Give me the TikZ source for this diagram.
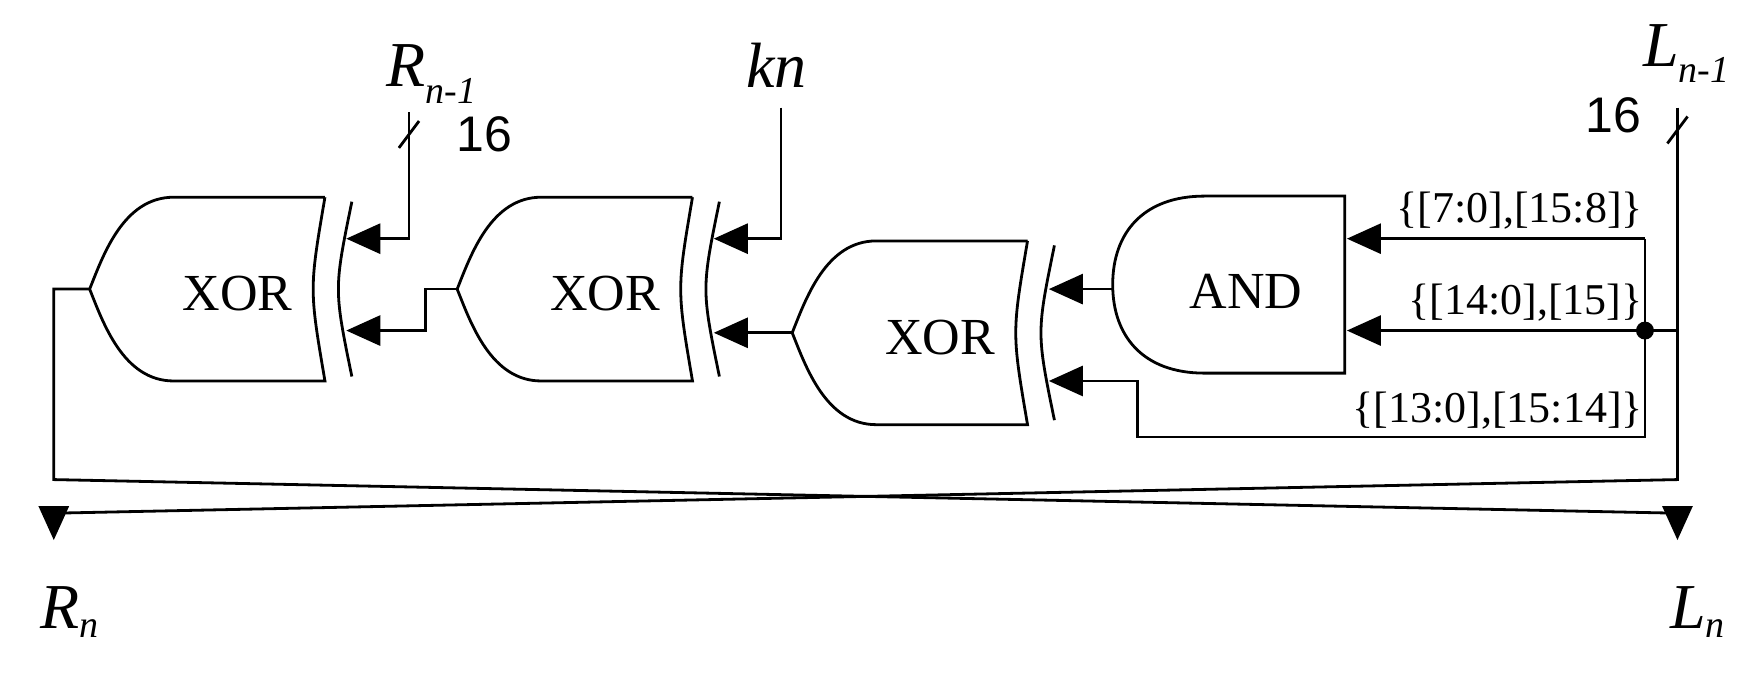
\documentclass[tikz,border=0pt]{standalone}
\usepackage{fontspec}
\setmainfont{Liberation Serif}
\newfontfamily\numfont{Liberation Sans}
\usetikzlibrary{arrows.meta}
\tikzset{
  wire/.style={line width=2.8pt},
  arr/.style={wire,-{Triangle[length=34pt,width=30pt]}},
  gate/.style={line width=2.8pt},
  gtext/.style={font=\fontsize{52}{52}\selectfont},
  blabel/.style={font=\fontsize{44}{44}\selectfont},
  siglabel/.style={font=\fontsize{64}{64}\selectfont\itshape},
  num/.style={font=\fontsize{50}{50}\selectfont\numfont},
  xorgate/.pic={
    \draw[gate] (210,-82) -- (75,-82) .. controls (30,-82) and (12,-30) .. (0,0)
      .. controls (12,30) and (30,82) .. (75,82) -- (210,82) .. controls (196,0) .. (210,-82);
    \draw[gate] (234,-78) .. controls (218,0) .. (234,78);
    \node[gtext] (-t) at (132,4) {XOR};
  }
}
\begin{document}
\begin{tikzpicture}[x=1.1205pt,y=-1.1205pt]
\useasboundingbox (0,0) rectangle (1568,617);
% gates
\pic (x1) at (80,258) {xorgate};
\pic (x2) at (408,258) {xorgate};
\pic (x3) at (707,297) {xorgate};
\draw[gate] (1075,175) -- (1200,175) -- (1200,333) -- (1075,333)
  .. controls (1020,333) and (993,300) .. (993,254)
  .. controls (993,208) and (1020,175) .. (1075,175);
\node[gtext] (andt) at (1112,260) {AND};
% coordinates
\coordinate (x1o) at (80,258);
\coordinate (x2o) at (408,258);
\coordinate (x3o) at (707,297);
\coordinate (ando) at (993,258);
\coordinate (x1a) at (309,213);
\coordinate (x1b) at (309,295);
\coordinate (x2a) at (637,213);
\coordinate (x2b) at (637,297);
\coordinate (x3a) at (936,258);
\coordinate (x3b) at (936,340);
\coordinate (anda) at (1202,213);
\coordinate (andb) at (1202,295);
\coordinate (rtop) at (365,100);
\coordinate (ktop) at (697,96);
\coordinate (ltop) at (1497,96);
\coordinate (dot) at (1468,295);
\coordinate (rn) at (48,482);
\coordinate (ln) at (1497,482);
% wires
\draw[arr] (rtop) |- (x1a);
\draw[arr] (x2o) -- (380,258) |- (x1b);
\draw[arr] (ktop) |- (x2a);
\draw[arr] (x3o) -- (x2b);
\draw[arr] (ando) -- (x3a);
\draw[arr] (1468,213) -- (anda);
\draw[arr] (dot) -- (andb);
\draw[arr] (dot) |- (1015,390) |- (x3b);
\draw[wire] (1468,213) -- (dot);
\draw[wire] (ltop) -- (1497,295) -- (dot);
\fill (dot) circle (8);
\draw[wire] (x1o) -- (48,258) -- (48,428) -- (1497,458) edge[arr] (ln);
\draw[wire] (1497,295) -- (1497,428) -- (48,458) edge[arr] (rn);
% bus slashes
\draw[wire] (356,132) -- (374,108);
\draw[wire] (1488,128) -- (1506,104);
\node[num] (r16) at (432,120) {16};
\node[num] (l16) at (1440,103) {16};
% labels
\node[siglabel] (rl) at (385,66) {R\textsubscript{\fontsize{38}{38}\selectfont n-1}};
\node[siglabel] (kl) at (693,58) {kn};
\node[siglabel] (ll) at (1505,48) {L\textsubscript{\fontsize{38}{38}\selectfont n-1}};
\node[siglabel] (rnl) at (62,546) {R\textsubscript{\fontsize{38}{38}\selectfont n}};
\node[siglabel] (lnl) at (1515,546) {L\textsubscript{\fontsize{38}{38}\selectfont n}};
\node[blabel,anchor=south east,inner sep=2pt] (b1) at (1468,207) {\{[7:0],[15:8]\}};
\node[blabel,anchor=south east,inner sep=2pt] (b2) at (1468,289) {\{[14:0],[15]\}};
\node[blabel,anchor=south east,inner sep=2pt] (b3) at (1468,385) {\{[13:0],[15:14]\}};
\end{tikzpicture}
\end{document}
